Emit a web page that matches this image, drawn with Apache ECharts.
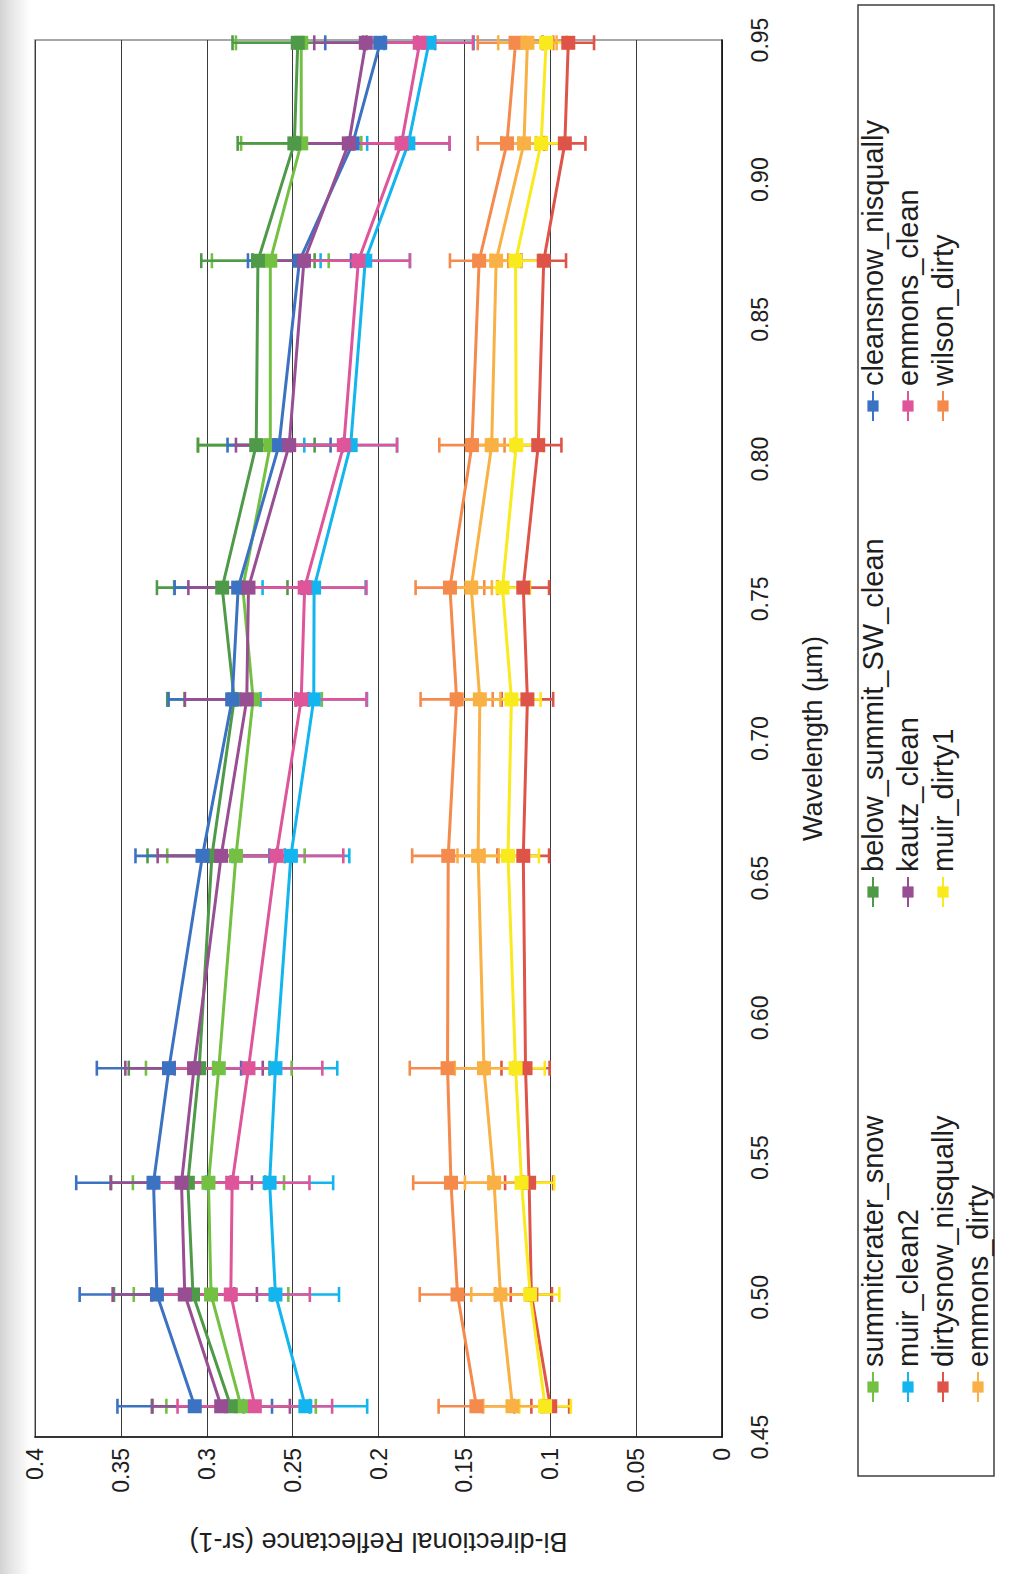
<!DOCTYPE html>
<html>
<head>
<meta charset="utf-8">
<script src="https://cdn.jsdelivr.net/npm/echarts@6/dist/echarts.min.js"></script>
<style>
  html, body { margin: 0; padding: 0; width: 1013px; height: 1574px; overflow: hidden; }
  body { background: linear-gradient(to right, #d2d2d2 0px, #e4e4e4 10px, #f4f4f4 22px, #ffffff 30px); }
  /* the chart is laid out landscape and turned a quarter-turn counter-clockwise on the page */
  #chart { position: absolute; left: 0; top: 1574px; width: 1574px; height: 1013px;
           transform-origin: 0 0; transform: rotate(-90deg); }
</style>
</head>
<body>
<div id="chart"></div>
<script>
// Wavelength of each band (µm)
const wavelengths = [0.461, 0.501, 0.541, 0.582, 0.658, 0.714, 0.754, 0.805, 0.871, 0.913, 0.949];

// Axis tick labels
const wavelengthTicks = ['0.45', '0.50', '0.55', '0.60', '0.65', '0.70', '0.75', '0.80', '0.85', '0.90', '0.95'];
const reflectanceTicks = ['0', '0.05', '0.1', '0.15', '0.2', '0.25', '0.3', '0.35', '0.4'];

// Mean bi-directional reflectance per site, and the error-bar half width
const summitcrater_snow      = [0.280, 0.2975, 0.299, 0.293, 0.283, 0.273, 0.279, 0.263, 0.263, 0.245, 0.245];
const summitcrater_snow_err  = [0.0435, 0.045, 0.044, 0.0424, 0.040, 0.040, 0.040, 0.042, 0.034, 0.035, 0.038];

const below_summit_SW_clean     = [0.286, 0.308, 0.311, 0.3044, 0.297, 0.284, 0.291, 0.2712, 0.2702, 0.249, 0.247];
const below_summit_SW_clean_err = [0.046, 0.046, 0.045, 0.041, 0.0375, 0.039, 0.038, 0.034, 0.033, 0.033, 0.038];

const cleansnow_nisqually     = [0.307, 0.329, 0.331, 0.322, 0.3025, 0.2852, 0.2817, 0.2579, 0.246, 0.215, 0.199];
const cleansnow_nisqually_err = [0.045, 0.045, 0.045, 0.042, 0.039, 0.037, 0.037, 0.030, 0.030, 0.032, 0.032];

const muir_clean2     = [0.2426, 0.260, 0.2634, 0.260, 0.251, 0.2377, 0.2375, 0.2162, 0.2077, 0.1826, 0.1706];
const muir_clean2_err = [0.036, 0.037, 0.037, 0.036, 0.034, 0.031, 0.030, 0.027, 0.026, 0.024, 0.026];

const kautz_clean     = [0.2916, 0.3128, 0.3147, 0.3074, 0.2916, 0.2767, 0.2757, 0.252, 0.2434, 0.2173, 0.2074];
const kautz_clean_err = [0.040, 0.042, 0.041, 0.040, 0.037, 0.036, 0.035, 0.031, 0.030, 0.030, 0.030];

const emmons_clean     = [0.272, 0.286, 0.2852, 0.2757, 0.2595, 0.245, 0.243, 0.2202, 0.2117, 0.1866, 0.176];
const emmons_clean_err = [0.045, 0.046, 0.045, 0.043, 0.039, 0.038, 0.036, 0.031, 0.030, 0.028, 0.031];

const dirtysnow_nisqually     = [0.100, 0.111, 0.1123, 0.1144, 0.1157, 0.1133, 0.1157, 0.107, 0.1038, 0.0915, 0.0895];
const dirtysnow_nisqually_err = [0.011, 0.012, 0.014, 0.014, 0.015, 0.015, 0.015, 0.0135, 0.013, 0.012, 0.015];

const muir_dirty1     = [0.103, 0.1117, 0.1167, 0.1202, 0.1246, 0.1226, 0.1278, 0.1198, 0.1202, 0.1053, 0.1024];
const muir_dirty1_err = [0.015, 0.017, 0.019, 0.017, 0.018, 0.017, 0.016, 0.016, 0.014, 0.013, 0.012];

const wilson_dirty     = [0.143, 0.154, 0.1578, 0.1598, 0.1594, 0.1545, 0.1584, 0.1456, 0.1414, 0.1252, 0.1202];
const wilson_dirty_err = [0.022, 0.022, 0.022, 0.022, 0.021, 0.021, 0.020, 0.019, 0.017, 0.017, 0.022];

const emmons_dirty     = [0.122, 0.129, 0.1327, 0.1386, 0.142, 0.141, 0.146, 0.1341, 0.1315, 0.1153, 0.1133];
const emmons_dirty_err = [0.017, 0.017, 0.017, 0.017, 0.012, 0.012, 0.012, 0.013, 0.013, 0.013, 0.017];

const sites = [
  { name: 'summitcrater_snow',     values: summitcrater_snow,     err: summitcrater_snow_err,     color: '#74c043' },
  { name: 'below_summit_SW_clean', values: below_summit_SW_clean, err: below_summit_SW_clean_err, color: '#4f9a49' },
  { name: 'cleansnow_nisqually',   values: cleansnow_nisqually,   err: cleansnow_nisqually_err,   color: '#3c72c2' },
  { name: 'muir_clean2',           values: muir_clean2,           err: muir_clean2_err,           color: '#12b5ee' },
  { name: 'kautz_clean',           values: kautz_clean,           err: kautz_clean_err,           color: '#984e92' },
  { name: 'emmons_clean',          values: emmons_clean,          err: emmons_clean_err,          color: '#de559a' },
  { name: 'dirtysnow_nisqually',   values: dirtysnow_nisqually,   err: dirtysnow_nisqually_err,   color: '#df5449' },
  { name: 'muir_dirty1',           values: muir_dirty1,           err: muir_dirty1_err,           color: '#f8ea1c' },
  { name: 'wilson_dirty',          values: wilson_dirty,          err: wilson_dirty_err,          color: '#f48a4c' },
  { name: 'emmons_dirty',          values: emmons_dirty,          err: emmons_dirty_err,          color: '#f9b044' }
];

const FONT = "'Liberation Sans', Arial, sans-serif";
const TEXT = '#1e1e1e';

// vertical error bar with short caps at both ends
function errorBar(color) {
  return function (params, api) {
    const x = api.value(0), y = api.value(1), e = api.value(2);
    const hi = api.coord([x, y + e]);
    const lo = api.coord([x, y - e]);
    const cap = 7.5;
    const style = { stroke: color, lineWidth: 2.6 };
    return {
      type: 'group',
      children: [
        { type: 'line', shape: { x1: hi[0], y1: hi[1], x2: lo[0], y2: lo[1] }, style },
        { type: 'line', shape: { x1: hi[0] - cap, y1: hi[1], x2: hi[0] + cap, y2: hi[1] }, style },
        { type: 'line', shape: { x1: lo[0] - cap, y1: lo[1], x2: lo[0] + cap, y2: lo[1] }, style }
      ]
    };
  };
}

const series = [];
sites.forEach(function (s) {
  series.push({
    name: s.name + ' error',
    type: 'custom',
    renderItem: errorBar(s.color),
    data: wavelengths.map(function (w, i) { return [w, s.values[i], s.err[i]]; }),
    encode: { x: 0, y: 1 },
    z: 2,
    silent: true
  });
});
sites.forEach(function (s) {
  series.push({
    name: s.name,
    type: 'line',
    data: wavelengths.map(function (w, i) { return [w, s.values[i]]; }),
    symbol: 'rect',
    symbolSize: 14,
    showSymbol: true,
    itemStyle: { color: s.color, borderWidth: 0 },
    lineStyle: { color: s.color, width: 3 },
    emphasis: { disabled: true },
    z: 3
  });
});

const legendCommon = {
  orient: 'vertical',
  top: 858,
  padding: 0,
  itemGap: 5,
  itemWidth: 30,
  itemHeight: 14,
  selectedMode: false,
  textStyle: { fontFamily: FONT, fontSize: 29, lineHeight: 30, color: TEXT }
};

const option = {
  backgroundColor: 'transparent',
  animation: false,
  grid: { left: 137, right: 40, top: 35, bottom: 291, show: true, borderColor: '#8a8a8a', borderWidth: 1.5,
          backgroundColor: 'transparent', containLabel: false, outerBoundsMode: 'none' },
  xAxis: {
    type: 'value', min: 0.45, max: 0.95, interval: 0.05,
    name: 'Wavelength (µm)', nameLocation: 'middle', nameGap: 77,
    nameTextStyle: { fontFamily: FONT, fontSize: 27, color: TEXT },
    axisLine: { show: true, onZero: false, lineStyle: { color: '#111', width: 1.5 } },
    axisTick: { show: false },
    axisLabel: { margin: 26, fontFamily: FONT, fontSize: 23, color: TEXT,
                 formatter: function (v) { return wavelengthTicks[Math.round((v - 0.45) / 0.05)]; } },
    splitLine: { show: false }
  },
  yAxis: {
    type: 'value', min: 0, max: 0.4, interval: 0.05,
    name: 'Bi-directional Reflectance (sr-1)', nameLocation: 'middle', nameGap: 91, nameRotate: 90,
    nameTextStyle: { fontFamily: FONT, fontSize: 27, color: TEXT },
    axisLine: { show: true, onZero: false, lineStyle: { color: '#111', width: 1.5 } },
    axisTick: { show: false },
    axisLabel: { margin: 11, fontFamily: FONT, fontSize: 23, color: TEXT,
                 formatter: function (v) { return reflectanceTicks[Math.round(v / 0.05)]; } },
    splitLine: { show: true, lineStyle: { color: '#3a3a3a', width: 1 } }
  },
  legend: [
    Object.assign({ left: 171, data: ['summitcrater_snow', 'muir_clean2', 'dirtysnow_nisqually', 'emmons_dirty'] }, legendCommon),
    Object.assign({ left: 666, data: ['below_summit_SW_clean', 'kautz_clean', 'muir_dirty1'] }, legendCommon),
    Object.assign({ left: 1152, data: ['cleansnow_nisqually', 'emmons_clean', 'wilson_dirty'] }, legendCommon)
  ],
  graphic: [
    { type: 'rect', shape: { x: 98, y: 858, width: 1471, height: 136 },
      style: { fill: 'none', stroke: '#3f3f3f', lineWidth: 1.5 }, silent: true }
  ],
  series: series
};

const chart = echarts.init(document.getElementById('chart'), null, { renderer: 'svg', width: 1574, height: 1013 });
chart.setOption(option);
</script>
</body>
</html>
